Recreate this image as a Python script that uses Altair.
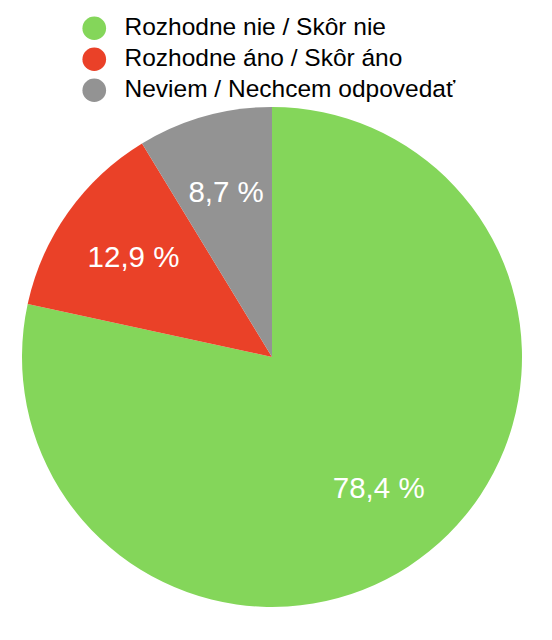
import altair as alt
import pandas as pd

categories = ["Rozhodne nie / Skôr nie", "Rozhodne áno / Skôr áno", "Neviem / Nechcem odpovedať"]
values = [78.4, 12.9, 8.7]
labels = ["78,4 %", "12,9 %", "8,7 %"]
colors = ["#84D65A", "#EA4128", "#939393"]

df = pd.DataFrame({
    "cat": categories,
    "val": values,
    "label": labels,
    "order": list(range(len(categories))),
})

CX, CY = 264, 349
font = "Helvetica, Arial, Liberation Sans, sans-serif"

base = alt.Chart(df).encode(
    theta=alt.Theta("val:Q", stack=True),
    order=alt.Order("order:Q"),
)

pie = base.mark_arc(outerRadius=250, x=CX, y=CY).encode(
    color=alt.Color(
        "cat:N",
        scale=alt.Scale(domain=categories, range=colors),
        sort=categories,
        legend=alt.Legend(
            title=None,
            orient="none",
            legendX=74,
            legendY=8,
            symbolType="circle",
            symbolSize=560,
            symbolStrokeWidth=0,
            symbolOpacity=1,
            labelFont=font,
            labelFontSize=24.5,
            labelColor="#000000",
            labelOffset=18,
            rowPadding=5,
            padding=0,
            labelLimit=500,
        ),
    )
)

text = base.mark_text(radius=170, x=CX, y=CY, font=font, fontSize=29.5,
                      color="white", align="center", baseline="middle").encode(
    text="label:N"
)

chart = (pie + text).properties(
    width=536, height=624, padding=0,
    autosize=alt.AutoSizeParams(type="none"),
).configure_view(stroke=None)

chart.save("out.html", embed_options={"renderer": "svg", "actions": False})
